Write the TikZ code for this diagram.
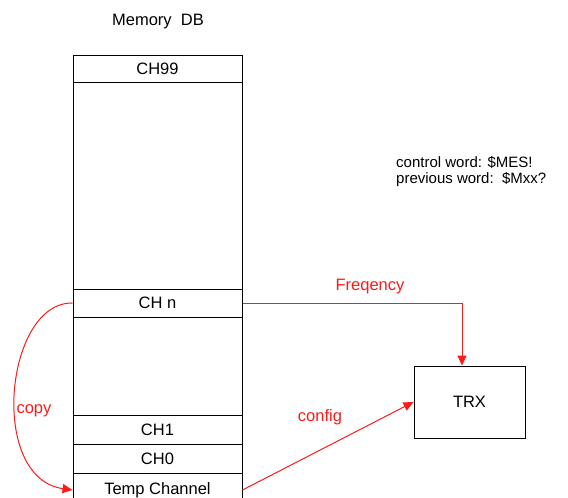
\documentclass[tikz,border=0pt]{standalone}
\usepackage{fontspec}
\setmainfont{Liberation Sans}
\usetikzlibrary{arrows.meta}
\definecolor{lnred}{HTML}{FF1A1A}
\begin{document}
\begin{tikzpicture}[x=1pt,y=-1pt,
  rowbox/.style={draw, line width=1pt, minimum width=169pt, inner sep=0pt, font=\fontsize{16.5}{18}\selectfont},
  redline/.style={draw=lnred, line width=1pt},
  redarrow/.style={redline, -{Triangle[length=10pt,width=9pt]}},
  redlabel/.style={text=lnred, font=\fontsize{16.5}{18}\selectfont},
  plainlabel/.style={font=\fontsize{16.5}{18}\selectfont}]
\useasboundingbox (0,0) rectangle (568,498);
\fill[white] (0,0) rectangle (568,498);
% memory column frame
\node[draw, line width=1pt, minimum width=169pt, minimum height=465pt, anchor=north west, inner sep=0pt] (db) at (73,55) {};
\node[plainlabel] (title) at (158,22) {Memory\ \ DB};
\node[rowbox, minimum height=27pt] (ch99) at (157.5,68.5) {CH99};
\node[rowbox, minimum height=28pt] (chn) at (157.5,303) {CH n};
\node[rowbox, minimum height=29pt] (ch1) at (157.5,429.5) {CH1};
\node[rowbox, minimum height=29pt] (ch0) at (157.5,458.5) {CH0};
\node[rowbox, minimum height=34pt] (temp) at (157.5,490) {Temp Channel};
% TRX
\node[draw, line width=1pt, minimum width=111pt, minimum height=72pt, inner sep=0pt, font=\fontsize{16.5}{18}\selectfont] (trx) at (469.5,402) {TRX};
% notes
\node[anchor=north west, align=left, inner sep=0pt, font=\fontsize{15}{16.5}\selectfont] (notes) at (396,156) {control word: \$MES!\\previous word:\ \ \$Mxx?};
% connectors
\coordinate (trxin) at ([xshift=-7.5pt]trx.north);
\draw[redarrow] (chn.east) -| (trxin);
\node[redlabel] (freq) at (370,287) {Freqency};
\draw[redarrow] ([yshift=0pt]temp.east) -- (trx.west);
\node[redlabel] (cfg) at (320,417) {config};
\draw[redarrow] (chn.west) .. controls (5,302) and (-12,478) .. (temp.west);
\node[redlabel] (cp) at (34,411) {copy};
\end{tikzpicture}
\end{document}
